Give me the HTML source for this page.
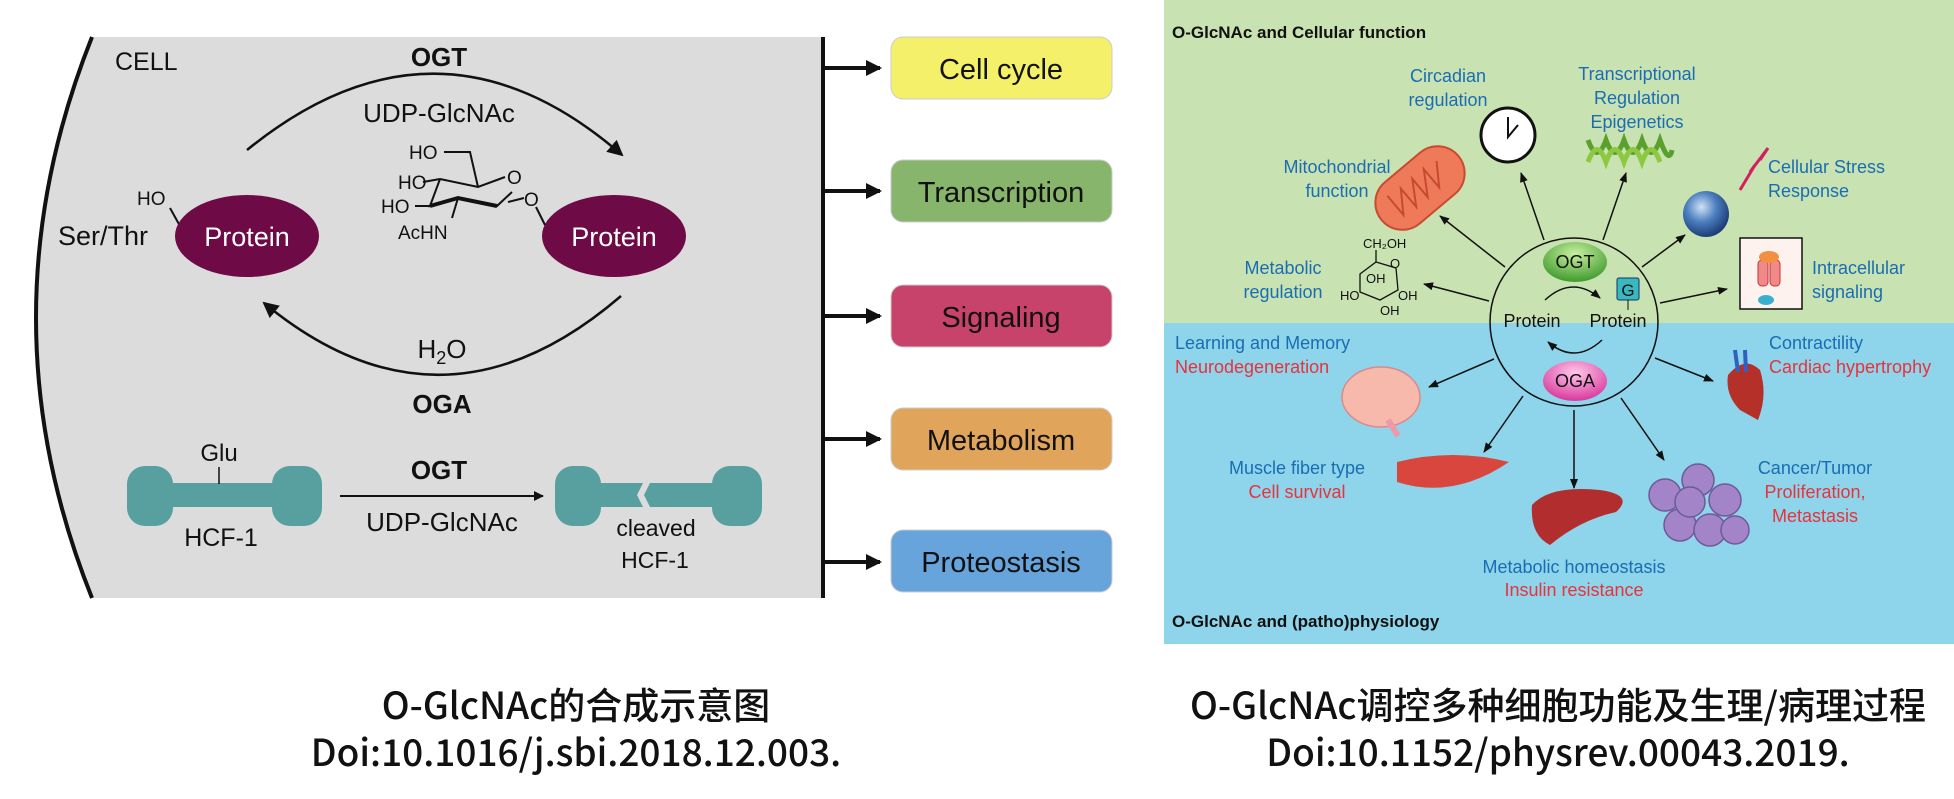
<!DOCTYPE html>
<html><head><meta charset="utf-8"><style>
html,body{margin:0;padding:0;background:#fff;}
svg{display:block;}
.t{font-family:"Liberation Sans",sans-serif;}
.cap{font-family:"Noto Sans CJK SC","Liberation Sans",sans-serif;font-size:37px;font-weight:500;fill:#111;}
.bl{fill:#1a6db3;font-size:18px;}
.rd{fill:#e8323c;font-size:18px;}
</style></head><body>
<svg width="1954" height="799" viewBox="0 0 1954 799" xmlns="http://www.w3.org/2000/svg">
<defs>
<marker id="ah" markerWidth="10" markerHeight="10" refX="9" refY="5" orient="auto" markerUnits="userSpaceOnUse"><path d="M0,0 L10,5 L0,10 z" fill="#111"/></marker>
<marker id="ahs" markerWidth="10" markerHeight="8" refX="9" refY="4" orient="auto" markerUnits="userSpaceOnUse"><path d="M0,0 L10,4 L0,8 z" fill="#111"/></marker>
<marker id="ahb" markerWidth="16" markerHeight="16" refX="14" refY="8" orient="auto" markerUnits="userSpaceOnUse"><path d="M0,0 L16,8 L0,16 z" fill="#111"/></marker>
<radialGradient id="sph" cx="40%" cy="35%" r="65%"><stop offset="0" stop-color="#cfe3f5"/><stop offset="0.5" stop-color="#4d7fbf"/><stop offset="1" stop-color="#1d3d78"/></radialGradient>
<radialGradient id="ogt" cx="50%" cy="30%" r="70%"><stop offset="0" stop-color="#c8f0a0"/><stop offset="1" stop-color="#3f9a2c"/></radialGradient>
<radialGradient id="oga" cx="50%" cy="30%" r="70%"><stop offset="0" stop-color="#ffc8ec"/><stop offset="1" stop-color="#d8389c"/></radialGradient>
</defs>

<!-- LEFT PANEL -->
<path d="M92,37 L823,37 L823,598 L92,598 Q-20,318 92,37 z" fill="#dcdcdc"/>
<path d="M92,37 Q-20,318 92,598" fill="none" stroke="#111" stroke-width="4"/>
<line x1="823" y1="37" x2="823" y2="598" stroke="#111" stroke-width="4"/>
<g stroke="#111" stroke-width="4" marker-end="url(#ahb)">
<line x1="823" y1="68" x2="880" y2="68"/><line x1="823" y1="191" x2="880" y2="191"/><line x1="823" y1="316" x2="880" y2="316"/><line x1="823" y1="439" x2="880" y2="439"/><line x1="823" y1="562" x2="880" y2="562"/>
</g>
<g class="t" font-size="29" text-anchor="middle" fill="#111">
<rect x="891" y="37" width="221" height="62" rx="12" fill="#f4f06a" stroke="#ccc"/><text x="1001" y="79">Cell cycle</text>
<rect x="891" y="160" width="221" height="62" rx="12" fill="#86b56b" stroke="#ccc"/><text x="1001" y="202">Transcription</text>
<rect x="891" y="285" width="221" height="62" rx="12" fill="#c8436b" stroke="#ccc"/><text x="1001" y="327">Signaling</text>
<rect x="891" y="408" width="221" height="62" rx="12" fill="#e0a45a" stroke="#ccc"/><text x="1001" y="450">Metabolism</text>
<rect x="891" y="530" width="221" height="62" rx="12" fill="#68a4dc" stroke="#ccc"/><text x="1001" y="572">Proteostasis</text>
</g>

<g class="t" fill="#111">
<text x="115" y="70" font-size="25">CELL</text>
<text x="439" y="66" font-size="26" font-weight="bold" text-anchor="middle">OGT</text>
<text x="439" y="122" font-size="26" text-anchor="middle">UDP-GlcNAc</text>
<text x="58" y="245" font-size="27">Ser/Thr</text>
<text x="137" y="205" font-size="19">HO</text>
<text x="442" y="358" font-size="26" text-anchor="middle">H<tspan font-size="18" dy="6">2</tspan><tspan dy="-6">O</tspan></text>
<text x="442" y="413" font-size="26" font-weight="bold" text-anchor="middle">OGA</text>
<text x="219" y="461" font-size="24" text-anchor="middle">Glu</text>
<text x="221" y="546" font-size="25" text-anchor="middle">HCF-1</text>
<text x="439" y="479" font-size="26" font-weight="bold" text-anchor="middle">OGT</text>
<text x="442" y="531" font-size="26" text-anchor="middle">UDP-GlcNAc</text>
<text x="656" y="536" font-size="23" text-anchor="middle">cleaved</text>
<text x="655" y="568" font-size="23" text-anchor="middle">HCF-1</text>
</g>
<path d="M247,150 Q438,-5 622,155" fill="none" stroke="#111" stroke-width="2.5" marker-end="url(#ahb)"/>
<path d="M621,296 Q442,450 264,303" fill="none" stroke="#111" stroke-width="2.5" marker-end="url(#ahb)"/>
<line x1="170" y1="208" x2="180" y2="226" stroke="#111" stroke-width="2"/>
<ellipse cx="247" cy="236" rx="72" ry="41" fill="#6e0a45"/>
<ellipse cx="614" cy="236" rx="72" ry="41" fill="#6e0a45"/>
<g class="t" fill="#fff" font-size="27" text-anchor="middle"><text x="247" y="246">Protein</text><text x="614" y="246">Protein</text></g>
<!-- sugar -->
<g stroke="#111" stroke-width="2" fill="none">
<path d="M444,152 L470,152 L478,187"/>
<path d="M440,179 L478,187 L505,177"/>
<path d="M440,179 L430,206 L458,198 L497,206 L512,192"/>
<line x1="423" y1="182" x2="440" y2="179"/><line x1="415" y1="206" x2="430" y2="206"/>
<line x1="458" y1="198" x2="452" y2="218"/><line x1="508" y1="202" x2="524" y2="198"/>
<line x1="536" y1="207" x2="545" y2="225"/>
</g>
<path d="M430,206 L458,198 L497,206" fill="none" stroke="#111" stroke-width="4"/>
<g class="t" font-size="19" fill="#111">
<text x="409" y="159">HO</text><text x="398" y="189">HO</text><text x="381" y="213">HO</text>
<text x="507" y="184">O</text><text x="524" y="206">O</text><text x="398" y="239">AcHN</text>
</g>
<!-- HCF -->
<g fill="#589f9f">
<rect x="127" y="466" width="46" height="60" rx="18"/><rect x="272" y="466" width="50" height="60" rx="18"/>
<rect x="165" y="483" width="115" height="24"/>
<rect x="555" y="466" width="46" height="60" rx="18"/><rect x="712" y="466" width="50" height="60" rx="18"/>
<path d="M595,483 L643,483 L637,495 L643,507 L595,507 z"/>
<path d="M650,483 L718,483 L718,507 L650,507 L644,495 z"/>
</g>
<line x1="219" y1="467" x2="219" y2="484" stroke="#111" stroke-width="1.5"/>
<line x1="340" y1="496" x2="543" y2="496" stroke="#111" stroke-width="2" marker-end="url(#ah)"/>

<!-- RIGHT PANEL -->
<rect x="1164" y="0" width="790" height="323" fill="#c9e2b2"/>
<rect x="1164" y="323" width="790" height="321" fill="#8ed4ea"/>
<g class="t" font-weight="bold" font-size="17" fill="#111">
<text x="1172" y="38">O-GlcNAc and Cellular function</text>
<text x="1172" y="627">O-GlcNAc and (patho)physiology</text>
</g>
<circle cx="1574" cy="322" r="84" fill="none" stroke="#111" stroke-width="1.5"/>
<g stroke="#111" stroke-width="1.5" marker-end="url(#ahs)">
<line x1="1505" y1="267" x2="1440" y2="216"/><line x1="1544" y1="240" x2="1521" y2="173"/>
<line x1="1603" y1="240" x2="1626" y2="173"/><line x1="1642" y1="267" x2="1685" y2="235"/>
<line x1="1660" y1="303" x2="1727" y2="289"/><line x1="1489" y1="301" x2="1424" y2="284"/>
<line x1="1494" y1="359" x2="1429" y2="387"/><line x1="1523" y1="396" x2="1484" y2="452"/>
<line x1="1574" y1="410" x2="1574" y2="488"/><line x1="1621" y1="398" x2="1664" y2="460"/>
<line x1="1655" y1="358" x2="1713" y2="381"/>
</g>
<ellipse cx="1575" cy="262" rx="32" ry="20" fill="url(#ogt)"/>
<ellipse cx="1575" cy="381" rx="32" ry="20" fill="url(#oga)"/>
<g class="t" font-size="18" text-anchor="middle" fill="#111"><text x="1575" y="268">OGT</text><text x="1575" y="387">OGA</text>
<text x="1532" y="327">Protein</text><text x="1618" y="327">Protein</text></g>
<rect x="1617" y="278" width="22" height="22" rx="2" fill="#3ab8c0" stroke="#136"/>
<text class="t" x="1628" y="296" font-size="17" text-anchor="middle" fill="#111">G</text>
<line x1="1628" y1="300" x2="1628" y2="310" stroke="#111"/>
<path d="M1545,300 Q1572,275 1600,298" fill="none" stroke="#111" stroke-width="1.5" marker-end="url(#ahs)"/>
<path d="M1602,340 Q1575,365 1548,342" fill="none" stroke="#111" stroke-width="1.5" marker-end="url(#ahs)"/>

<g class="t" text-anchor="middle">
<text class="bl" x="1448" y="82">Circadian</text><text class="bl" x="1448" y="106">regulation</text>
<text class="bl" x="1637" y="80">Transcriptional</text><text class="bl" x="1637" y="104">Regulation</text><text class="bl" x="1637" y="128">Epigenetics</text>
<text class="bl" x="1337" y="173">Mitochondrial</text><text class="bl" x="1337" y="197">function</text>
<text class="bl" x="1283" y="274">Metabolic</text><text class="bl" x="1283" y="298">regulation</text>
<text class="bl" x="1297" y="474">Muscle fiber type</text><text class="rd" x="1297" y="498">Cell survival</text>
<text class="bl" x="1815" y="474">Cancer/Tumor</text><text class="rd" x="1815" y="498">Proliferation,</text><text class="rd" x="1815" y="522">Metastasis</text>
<text class="bl" x="1574" y="573">Metabolic homeostasis</text><text class="rd" x="1574" y="596">Insulin resistance</text>
</g>
<g class="t">
<text class="bl" x="1768" y="173">Cellular Stress</text><text class="bl" x="1768" y="197">Response</text>
<text class="bl" x="1812" y="274">Intracellular</text><text class="bl" x="1812" y="298">signaling</text>
<text class="bl" x="1175" y="349">Learning and Memory</text><text class="rd" x="1175" y="373">Neurodegeneration</text>
<text class="bl" x="1769" y="349">Contractility</text><text class="rd" x="1769" y="373">Cardiac hypertrophy</text>
</g>
<!-- icons -->
<circle cx="1508" cy="135" r="27" fill="#fff" stroke="#111" stroke-width="3"/>
<path d="M1508,117 L1508,137 L1518,125" fill="none" stroke="#111" stroke-width="2"/>
<g transform="translate(1420,188) rotate(-40)"><rect x="-50" y="-27" width="100" height="54" rx="27" fill="#ee7a5a" stroke="#c84a30" stroke-width="2"/><path d="M-30,-15 L-30,10 L-15,-12 L-15,12 L0,-12 L0,12 L15,-12 L15,12 L30,-10" fill="none" stroke="#c84a30" stroke-width="2"/></g>
<path d="M1588,140 Q1597,165 1606,140 Q1615,165 1624,140 Q1633,165 1642,140 Q1651,165 1660,140 Q1669,165 1672,150" fill="none" stroke="#5aa02c" stroke-width="5"/>
<path d="M1588,162 Q1597,137 1606,162 Q1615,137 1624,162 Q1633,137 1642,162 Q1651,137 1660,162" fill="none" stroke="#8cc840" stroke-width="5"/>
<circle cx="1706" cy="214" r="23" fill="url(#sph)"/>
<path d="M1740,190 L1755,165 L1750,172 L1768,148 L1760,160" fill="none" stroke="#d02060" stroke-width="3"/>
<rect x="1740" y="238" width="62" height="71" fill="#fdf2ee" stroke="#111" stroke-width="1.5"/>
<rect x="1758" y="260" width="10" height="26" rx="4" fill="#f08a8a" stroke="#c33"/><rect x="1770" y="260" width="10" height="26" rx="4" fill="#f08a8a" stroke="#c33"/>
<ellipse cx="1769" cy="257" rx="10" ry="6" fill="#f09040"/><ellipse cx="1766" cy="300" rx="8" ry="5" fill="#3ab0d0"/>
<g stroke="#111" stroke-width="1.3" fill="none">
<path d="M1360,274 L1376,262 L1396,268 L1398,290 L1380,300 L1360,292 z"/><path d="M1376,262 L1376,250"/>
</g>
<g class="t" font-size="13" fill="#111"><text x="1363" y="248">CH₂OH</text><text x="1390" y="268">O</text><text x="1366" y="283">OH</text><text x="1340" y="300">HO</text><text x="1398" y="300">OH</text><text x="1380" y="315">OH</text></g>
<ellipse cx="1381" cy="397" rx="39" ry="30" fill="#f6b9ab" stroke="#d88" stroke-width="1.5"/>
<path d="M1388,420 L1398,436" stroke="#e9a" stroke-width="6"/>
<path d="M1397,462 Q1453,448 1509,462 Q1453,500 1397,482 z" fill="#d8463e"/>
<path d="M1532,505 Q1550,485 1600,490 Q1635,495 1616,512 Q1580,520 1550,545 Q1530,535 1532,505 z" fill="#b22e2e"/>
<g fill="#a384c8" stroke="#6e5a98" stroke-width="1.5">
<circle cx="1665" cy="495" r="16"/><circle cx="1698" cy="480" r="16"/><circle cx="1725" cy="500" r="16"/><circle cx="1680" cy="525" r="16"/><circle cx="1710" cy="530" r="16"/><circle cx="1735" cy="530" r="14"/><circle cx="1690" cy="502" r="15"/></g>
<path d="M1760,370 Q1745,355 1728,375 Q1725,395 1740,410 L1758,420 Q1768,395 1760,370 z" fill="#b6302a"/>
<path d="M1735,350 L1738,372 M1745,350 L1746,372" stroke="#3060c0" stroke-width="4"/>

<!-- captions -->
<text class="cap" x="576" y="719" text-anchor="middle">O-GlcNAc的合成示意图</text>
<text class="cap" x="576" y="766" text-anchor="middle">Doi:10.1016/j.sbi.2018.12.003.</text>
<text class="cap" x="1558" y="719" text-anchor="middle">O-GlcNAc调控多种细胞功能及生理/病理过程</text>
<text class="cap" x="1558" y="766" text-anchor="middle">Doi:10.1152/physrev.00043.2019.</text>
</svg>
</body></html>
